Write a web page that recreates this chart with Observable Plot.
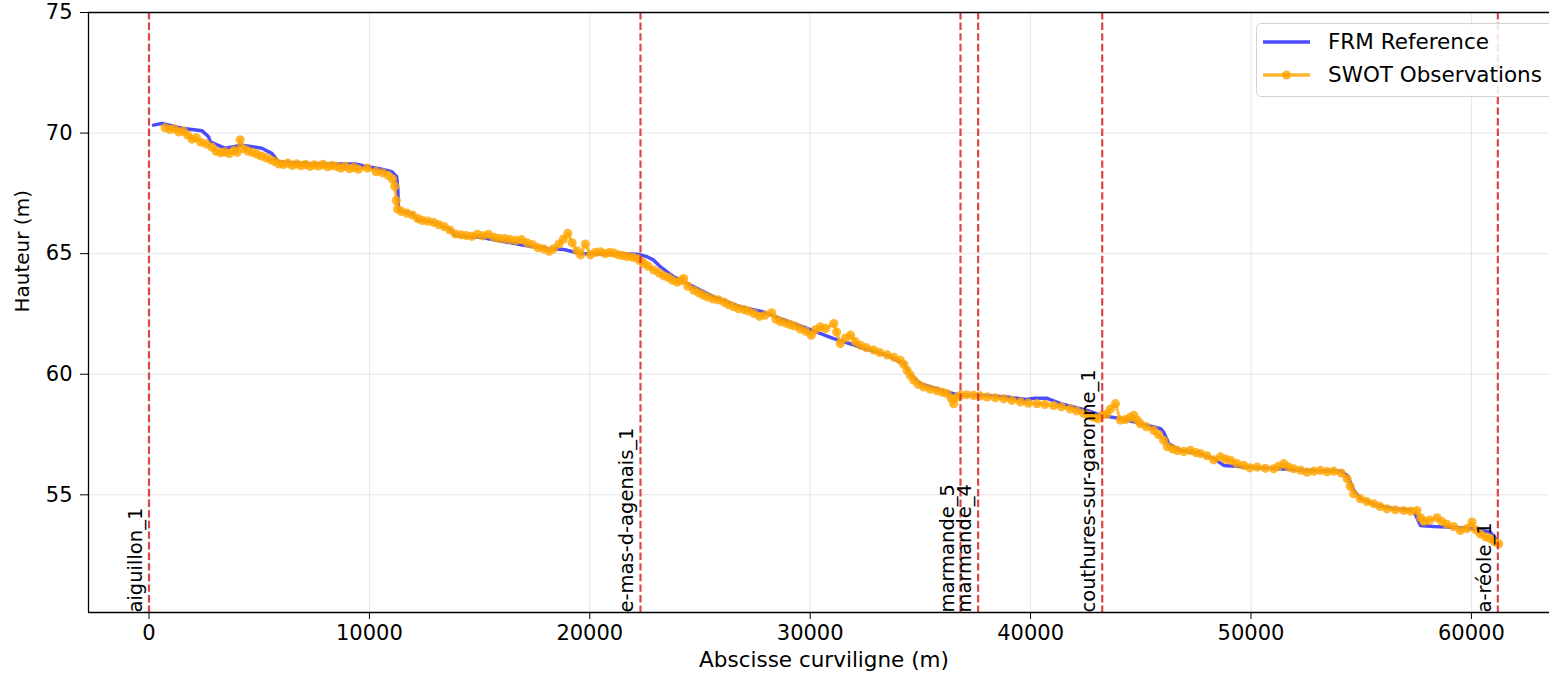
<!DOCTYPE html>
<html>
<head>
<meta charset="utf-8">
<script src="https://cdn.jsdelivr.net/npm/d3@7"></script>
<script src="https://cdn.jsdelivr.net/npm/@observablehq/plot@0.6"></script>
<style>
  body { margin: 0; background: #fff; font-family: "DejaVu Sans", sans-serif; }
  #wrap { position: relative; width: 1549px; height: 679px; overflow: hidden; background: #fff; }
  #legend { position: absolute; left: 1256px; top: 23px; width: 330px; height: 72px;
            border: 1px solid #d4d4d4; border-radius: 5px; background: rgba(255,255,255,0.85);
            font-size: 21.5px; color: #000; }
  .row { position: absolute; left: 0; height: 30px; width: 330px; }
  .row svg { position: absolute; left: 6px; top: 0; }
  .row span { position: absolute; left: 71px; top: 2px; white-space: nowrap; line-height: 26px; }
</style>
</head>
<body>
<div id="wrap">
  <div id="chart"></div>
  <div id="legend"></div>
</div>
<script>
// ---- data ----
const xTicks = [0, 10000, 20000, 30000, 40000, 50000, 60000];
const yTicks = [55, 60, 65, 70, 75];
const xDomain = [-2745, 63544];
const yDomain = [50.12, 75];

const seriesNames = ["FRM Reference", "SWOT Observations"];

const stationNames = ["aiguillon_1", "e-mas-d-agenais_1", "marmande_5", "marmande_4", "couthures-sur-garonne_1", "a-réole_1"];
const stationX = [0, 22300, 36820, 37620, 43250, 61200];

const frmX = [204, 580, 1490, 2400, 2700, 2780, 3460, 4210, 5120, 5570, 5880, 7540, 9350, 9960, 10560, 11020, 11240, 11290, 11320, 11470, 11920, 12230, 12830, 13590, 13890, 14500, 15100, 17000, 18070, 18820, 19580, 21090, 22150, 22600, 22900, 23210, 23810, 24720, 25630, 26840, 27890, 28650, 29860, 30770, 31070, 32280, 33490, 34250, 34550, 35000, 36210, 36820, 37720, 38940, 39800, 40200, 40750, 41360, 42570, 43170, 44080, 44990, 45900, 46040, 46270, 46800, 47710, 48310, 48770, 49830, 51190, 52700, 54060, 54360, 54660, 54970, 55720, 56480, 57380, 57690, 58290, 59200, 60110, 60860, 61170];
const frmH = [70.33, 70.40, 70.20, 70.10, 69.85, 69.64, 69.37, 69.50, 69.37, 69.16, 68.81, 68.72, 68.72, 68.60, 68.50, 68.40, 68.19, 67.64, 66.81, 66.74, 66.67, 66.39, 66.32, 66.04, 65.77, 65.70, 65.67, 65.35, 65.21, 65.17, 65.00, 65.00, 64.98, 64.87, 64.73, 64.45, 64.04, 63.62, 63.21, 62.79, 62.58, 62.31, 61.90, 61.58, 61.48, 61.13, 60.79, 60.44, 59.96, 59.61, 59.26, 59.13, 59.13, 59.06, 58.95, 59.00, 59.00, 58.78, 58.50, 58.30, 58.16, 57.95, 57.74, 57.60, 57.12, 56.84, 56.71, 56.50, 56.22, 56.15, 56.08, 56.01, 55.98, 55.81, 55.18, 54.84, 54.56, 54.42, 54.35, 53.73, 53.69, 53.66, 53.59, 53.45, 53.10];

const swotX = [730, 950, 1150, 1350, 1550, 1750, 1950, 2150, 2350, 2600, 2850, 3050, 3250, 3450, 3650, 3850, 4000, 4135, 4300, 4500, 4700, 4900, 5100, 5300, 5500, 5700, 5900, 6100, 6300, 6500, 6700, 6900, 7100, 7300, 7500, 7700, 7900, 8100, 8300, 8500, 8700, 8900, 9100, 9300, 9500, 9900, 10300, 10600, 10850, 11050, 11150, 11220, 11280, 11450, 11700, 11950, 12200, 12400, 12650, 12900, 13150, 13400, 13650, 13900, 14150, 14400, 14650, 14900, 15150, 15400, 15650, 15900, 16150, 16400, 16650, 16900, 17150, 17400, 17650, 17900, 18150, 18350, 18600, 18800, 19000, 19200, 19420, 19580, 19800, 20030, 20250, 20480, 20700, 20900, 21100, 21300, 21500, 21700, 21950, 22150, 22300, 22450, 22650, 22900, 23150, 23350, 23550, 23750, 23960, 24150, 24260, 24450, 24720, 24950, 25150, 25350, 25600, 25850, 26100, 26300, 26530, 26750, 27000, 27200, 27450, 27700, 27950, 28250, 28450, 28650, 28900, 29100, 29300, 29550, 29800, 30050, 30250, 30460, 30700, 31070, 31200, 31370, 31600, 31830, 32050, 32280, 32550, 32880, 33150, 33490, 33800, 34090, 34250, 34400, 34550, 34700, 34900, 35150, 35450, 35760, 36000, 36210, 36400, 36510, 36650, 36820, 37100, 37420, 37700, 38030, 38400, 38780, 39150, 39540, 39900, 40290, 40650, 41050, 41400, 41800, 42100, 42410, 42650, 42860, 43050, 43240, 43450, 43620, 43850, 44070, 44300, 44500, 44680, 44830, 44980, 45250, 45590, 45800, 46040, 46200, 46450, 46650, 46950, 47250, 47500, 47710, 48000, 48310, 48610, 48850, 49070, 49350, 49670, 49950, 50280, 50650, 51030, 51250, 51490, 51700, 51940, 52250, 52540, 52850, 53150, 53450, 53750, 54100, 54360, 54500, 54660, 54960, 55250, 55570, 55850, 56170, 56550, 56930, 57250, 57530, 57700, 57840, 58100, 58440, 58650, 58890, 59200, 59500, 59800, 60030, 60200, 60410, 60650, 60860, 61050, 61240];
const swotH = [70.22, 70.15, 70.18, 70.05, 70.08, 69.92, 69.75, 69.80, 69.62, 69.55, 69.42, 69.25, 69.18, 69.22, 69.15, 69.28, 69.20, 69.72, 69.35, 69.25, 69.20, 69.12, 69.05, 68.98, 68.90, 68.82, 68.72, 68.70, 68.75, 68.66, 68.72, 68.65, 68.70, 68.62, 68.68, 68.64, 68.70, 68.60, 68.66, 68.62, 68.55, 68.62, 68.52, 68.58, 68.50, 68.55, 68.40, 68.35, 68.25, 68.10, 67.80, 67.20, 66.85, 66.75, 66.68, 66.60, 66.45, 66.38, 66.35, 66.30, 66.20, 66.12, 65.98, 65.82, 65.78, 65.75, 65.72, 65.80, 65.74, 65.80, 65.68, 65.63, 65.62, 65.58, 65.55, 65.58, 65.45, 65.38, 65.25, 65.20, 65.10, 65.20, 65.40, 65.60, 65.84, 65.45, 65.12, 64.95, 65.40, 64.95, 65.05, 65.08, 65.00, 65.05, 65.02, 64.95, 64.92, 64.88, 64.85, 64.80, 64.70, 64.60, 64.48, 64.32, 64.20, 64.08, 64.02, 63.90, 63.82, 63.88, 63.97, 63.65, 63.48, 63.38, 63.28, 63.20, 63.12, 63.08, 62.98, 62.88, 62.80, 62.72, 62.68, 62.62, 62.52, 62.40, 62.45, 62.55, 62.28, 62.18, 62.12, 62.05, 62.00, 61.88, 61.78, 61.62, 61.85, 61.96, 61.90, 62.10, 61.75, 61.27, 61.50, 61.62, 61.35, 61.20, 61.10, 61.00, 60.90, 60.80, 60.70, 60.58, 60.40, 60.15, 59.95, 59.75, 59.58, 59.47, 59.38, 59.32, 59.25, 59.20, 59.00, 58.78, 59.05, 59.13, 59.15, 59.12, 59.10, 59.06, 59.02, 58.98, 58.92, 58.85, 58.80, 58.78, 58.75, 58.70, 58.65, 58.56, 58.48, 58.38, 58.28, 58.22, 58.15, 58.30, 58.35, 58.55, 58.78, 58.10, 58.12, 58.20, 58.30, 58.10, 57.95, 57.82, 57.67, 57.50, 57.26, 57.00, 56.90, 56.84, 56.80, 56.84, 56.75, 56.71, 56.62, 56.45, 56.57, 56.48, 56.43, 56.30, 56.22, 56.12, 56.15, 56.10, 56.08, 56.18, 56.29, 56.15, 56.08, 56.02, 55.94, 55.98, 56.01, 55.96, 55.98, 55.90, 55.67, 55.35, 55.04, 54.84, 54.72, 54.63, 54.52, 54.42, 54.38, 54.35, 54.32, 54.35, 54.05, 53.90, 53.95, 54.05, 53.90, 53.78, 53.68, 53.52, 53.60, 53.87, 53.55, 53.38, 53.25, 53.18, 53.05, 52.97];

// ---- build tables ----
const frm = frmX.map((x, i) => ({x, h: frmH[i]}));
const swot = swotX.map((x, i) => ({x, h: swotH[i]}));
const stations = stationX.map((x, i) => ({x, name: stationNames[i]}));

const chart = Plot.plot({
  width: 1549,
  height: 679,
  marginLeft: 88,
  marginRight: 0,
  marginTop: 12,
  marginBottom: 67,
  style: {fontFamily: "DejaVu Sans", fontSize: "21px", color: "black", background: "transparent", overflow: "visible"},
  x: {domain: xDomain, ticks: xTicks, tickFormat: d => String(d), tickSize: 7, tickPadding: 6, label: null, grid: true},
  y: {domain: yDomain, ticks: yTicks, tickFormat: d => String(d), tickSize: 8, tickPadding: 8, label: null, grid: true},
  marks: [
    Plot.line(frm, {x: "x", y: "h", stroke: "blue", strokeOpacity: 0.7, strokeWidth: 3.5}),
    Plot.line(swot, {x: "x", y: "h", stroke: "orange", strokeOpacity: 0.8, strokeWidth: 3}),
    Plot.dot(swot, {x: "x", y: "h", r: 4.6, fill: "orange", fillOpacity: 0.8, stroke: null}),
    Plot.ruleX(stations, {x: "x", stroke: "#d62728", strokeOpacity: 0.85, strokeWidth: 2.2, strokeDasharray: "7.4,3.2"}),
    Plot.text(stations, {x: "x", y: () => yDomain[0], text: "name", rotate: -90, textAnchor: "start", lineAnchor: "bottom", dx: -7, fill: "black", fontSize: 19.5}),
    Plot.ruleX([xDomain[0]], {stroke: "black", strokeWidth: 1.3}),
    Plot.ruleY([yDomain[0], yDomain[1]], {stroke: "black", strokeWidth: 1.3}),
    Plot.text(["Hauteur (m)"], {frameAnchor: "left", rotate: -90, dx: -66, text: d => d, fill: "black", fontSize: 20}),
    Plot.text(["Abscisse curviligne (m)"], {frameAnchor: "bottom", dy: 54, dx: 5, text: d => d, fill: "black", fontSize: 21.5})
  ]
});
document.getElementById("chart").appendChild(chart);

// ---- legend ----
const legend = document.getElementById("legend");
const legendStyles = [
  {stroke: "blue", opacity: 0.7, dot: false},
  {stroke: "orange", opacity: 0.8, dot: true}
];
seriesNames.forEach((name, i) => {
  const row = document.createElement("div");
  row.className = "row";
  row.style.top = (i * 33 + 3) + "px";
  const s = legendStyles[i];
  row.innerHTML =
    `<svg width="50" height="30"><line x1="0" x2="47" y1="15" y2="15" stroke="${s.stroke}" stroke-opacity="${s.opacity}" stroke-width="3.5"/>` +
    (s.dot ? `<circle cx="23.5" cy="15" r="4.6" fill="${s.stroke}" fill-opacity="${s.opacity}"/>` : "") +
    `</svg><span>${name}</span>`;
  legend.appendChild(row);
});
</script>
</body>
</html>
